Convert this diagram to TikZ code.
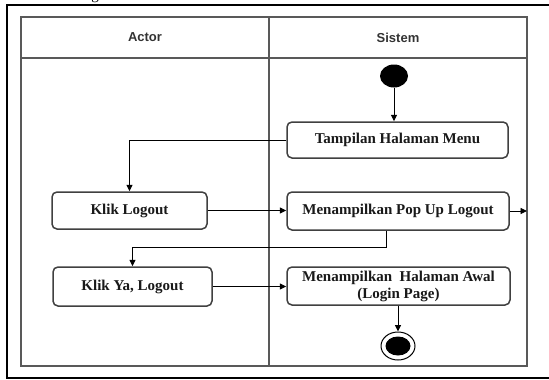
\documentclass[tikz,border=0pt]{standalone}
\usepackage{fontspec}
\setmainfont{Liberation Serif}
\newfontfamily\headfont{Liberation Sans}
\usetikzlibrary{arrows.meta,shapes.geometric}

\begin{document}
\begin{tikzpicture}[x=1pt,y=-1pt,
  lane/.style={draw=black!65, line width=1.2pt},
  action/.style={draw=black!75, line width=1.5pt, rounded corners=5pt,
    fill=white, font=\fontsize{15}{17}\selectfont\bfseries,
    text=black!90, align=center, inner sep=0pt},
  flow/.style={draw=black, line width=0.9pt,
    -{Triangle[length=6.5pt,width=6pt]}},
  head/.style={font=\headfont\fontsize{13}{15}\selectfont\bfseries,
    text=black!80}]

\useasboundingbox (0,0) rectangle (549,380);

% outer frame (runs past the right edge of the page)
\draw[line width=2.6pt] (560,5) -- (7,5) -- (7,378) -- (560,378);
\node[anchor=base, font=\fontsize{15}{17}\selectfont] (capfrag) at (95,-0.5) {g};

% swimlane table
\draw[lane] (21,17) rectangle (527,366);
\draw[lane] (21,58) -- (527,58);
\draw[lane] (269,17) -- (269,366);
\node[head] (hactor) at (145,37.5) {Actor};
\node[head] (hsys) at (398,37.5) {Sistem};

% start and end
\node[ellipse, fill=black, minimum width=28pt, minimum height=23pt,
  inner sep=0pt] (start) at (394,76) {};
\node[ellipse, draw=black, line width=1pt, fill=white,
  minimum width=34pt, minimum height=28pt, inner sep=0pt] (stop) at (398,346) {};
\node[ellipse, fill=black, minimum width=25pt, minimum height=19pt,
  inner sep=0pt] (stopdot) at (stop.center) {};

% actions
\node[action, minimum width=221pt, minimum height=36pt] (menu) at (397.5,140) {Tampilan Halaman Menu};
\node[action, minimum width=222pt, minimum height=38pt] (popup) at (398,211) {Menampilkan Pop Up Logout};
\node[action, minimum width=223pt, minimum height=38pt] (awal) at (398.5,286) {Menampilkan\ \ Halaman Awal\\(Login Page)};
\node[action, minimum width=155pt, minimum height=37pt] (klik) at (129.5,210.5) {Klik Logout};
\node[action, minimum width=159pt, minimum height=39pt] (ya) at (132.5,286.5) {Klik Ya, Logout};

% connectors
\coordinate (popout) at (527,211);
\coordinate (bend) at (386,247);
\draw[flow] (start.south) -- (start.south |- menu.north);
\draw[flow] (menu.west) -| (klik.north);
\draw[flow] (klik.east) -- (klik.east -| popup.west);
\draw[flow] (popup.east) -- (popout);
\draw[flow] (bend |- popup.south) -- (bend) -| (ya.north);
\draw[flow] (ya.east) -- (ya.east -| awal.west);
\draw[flow] (awal.south -| stop.north) -- (stop.north);
\end{tikzpicture}
\end{document}
